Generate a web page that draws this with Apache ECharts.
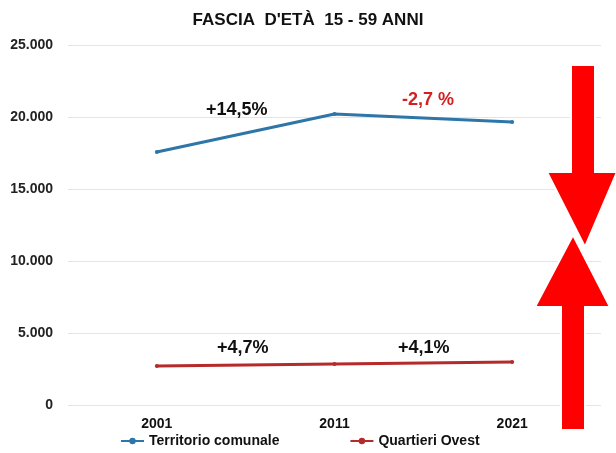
<!DOCTYPE html>
<html>
<head>
<meta charset="utf-8">
<script src="https://cdn.jsdelivr.net/npm/echarts@6/dist/echarts.min.js"></script>
<style>
  html, body { margin: 0; padding: 0; background: #fff; }
  #chart { width: 616px; height: 453px; }
</style>
</head>
<body>
<div id="chart"></div>
<script>
var years = ['2001', '2011', '2021'];
var territorio = [17570, 20210, 19650];
var quartieri = [2710, 2850, 2990];
var yTicks = [0, 5000, 10000, 15000, 20000, 25000];

var chart = echarts.init(document.getElementById('chart'));
var font = 'Liberation Sans, Arial, sans-serif';

chart.setOption({
  animation: false,
  backgroundColor: '#fff',
  title: {
    text: "FASCIA  D'ETÀ  15 - 59 ANNI",
    left: 'center',
    top: 7,
    textStyle: { fontFamily: font, fontSize: 17, fontWeight: 'bold', color: '#111' }
  },
  grid: { left: 68, right: 15, top: 45, bottom: 48 },
  legend: {
    bottom: 0,
    left: 115,
    itemGap: 70,
    itemWidth: 23,
    itemHeight: 8,
    textStyle: { fontFamily: font, fontSize: 14, fontWeight: 'bold', color: '#111' },
    data: ['Territorio comunale', 'Quartieri Ovest']
  },
  xAxis: {
    type: 'category',
    data: years,
    axisLine: { show: false },
    axisTick: { show: false },
    axisLabel: { fontFamily: font, fontSize: 14, fontWeight: 'bold', color: '#111', margin: 12 }
  },
  yAxis: {
    type: 'value',
    min: yTicks[0],
    max: yTicks[yTicks.length - 1],
    interval: 5000,
    axisLabel: {
      fontFamily: font, fontSize: 14, fontWeight: 'bold', color: '#222', margin: 15,
      formatter: function (v) { return v === 0 ? '0' : (v / 1000).toFixed(3); }
    },
    splitLine: { lineStyle: { color: '#e4e4e4' } }
  },
  series: [
    {
      name: 'Territorio comunale',
      type: 'line',
      data: territorio,
      symbol: 'circle',
      symbolSize: 4,
      color: '#2e76a8',
      lineStyle: { width: 3, color: '#2e76a8' }
    },
    {
      name: 'Quartieri Ovest',
      type: 'line',
      data: quartieri,
      symbol: 'circle',
      symbolSize: 4,
      color: '#b52a2a',
      lineStyle: { width: 3, color: '#b52a2a' }
    }
  ],
  graphic: [
    { type: 'text', z: 100, left: 206, top: 101, style: { text: '+14,5%', font: 'bold 18px ' + font, fill: '#111' } },
    { type: 'text', z: 100, left: 402, top: 91, style: { text: '-2,7 %', font: 'bold 18px ' + font, fill: '#d42020' } },
    { type: 'text', z: 100, left: 217, top: 339, style: { text: '+4,7%', font: 'bold 18px ' + font, fill: '#111' } },
    { type: 'text', z: 100, left: 398, top: 339, style: { text: '+4,1%', font: 'bold 18px ' + font, fill: '#111' } },
    {
      type: 'polygon', z: 100,
      shape: { points: [[571, 65], [595, 65], [595, 172], [617, 172], [585, 247], [547, 172], [571, 172]] },
      style: { fill: '#ff0000', stroke: '#fff', lineWidth: 2 }
    },
    {
      type: 'polygon', z: 100,
      shape: { points: [[573, 235], [610, 307], [585, 307], [585, 430], [561, 430], [561, 307], [535, 307]] },
      style: { fill: '#ff0000', stroke: '#fff', lineWidth: 2 }
    }
  ]
});
</script>
</body>
</html>
